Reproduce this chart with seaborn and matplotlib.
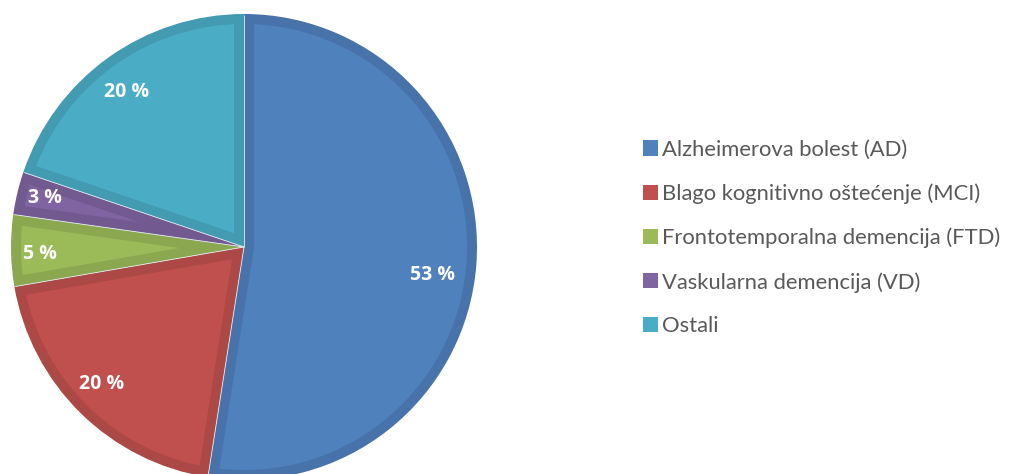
import numpy as np
import matplotlib
matplotlib.use("Agg")
import matplotlib.pyplot as plt
import seaborn as sns
from matplotlib.patches import Patch, Polygon

categories = ["Alzheimerova bolest (AD)", "Blago kognitivno oštećenje (MCI)",
              "Frontotemporalna demencija (FTD)", "Vaskularna demencija (VD)", "Ostali"]
values = [53, 20, 5, 3, 20]
labels = ["53 %", "20 %", "5 %", "3 %", "20 %"]

fill_colors = ["#4F81BD", "#C0504D", "#9BBB59", "#8064A2", "#4BACC6"]
edge_colors = ["#4773AA", "#AC4845", "#8BA850", "#725A91", "#439BB2"]
label_dist = [0.82, 0.85, 0.875, 0.88, 0.835]
label_angle_shift = [-4.0, -1.5, 1.0, -0.5, 1.5]

sns.set_theme(style="white")
plt.rcParams['font.family'] = ['Lato', 'DejaVu Sans']

W, H = 1014, 474
fig = plt.figure(figsize=(W / 100, H / 100), dpi=100)
cx, cy, r = 244, 247, 233
ax = fig.add_axes([(cx - r) / W, (H - cy - r) / H, 2 * r / W, 2 * r / H])

wedges, _ = ax.pie(values, colors=edge_colors, startangle=90, counterclock=False,
                   radius=1, wedgeprops=dict(linewidth=0))
ax.set_xlim(-1, 1)
ax.set_ylim(-1, 1)
ax.axis("off")

# inner lighter area inset from the wedge outline
d = 10 / r
for w, fc in zip(wedges, fill_colors):
    t1, t2 = np.deg2rad(w.theta1), np.deg2rad(w.theta2)
    h = (t2 - t1) / 2
    mid = (t1 + t2) / 2
    apex = d / np.sin(h)
    dl = np.arcsin(d / (1 - d))
    arc = np.linspace(t1 + dl, t2 - dl, 200)
    pts = [(apex * np.cos(mid), apex * np.sin(mid))]
    pts += [((1 - d) * np.cos(a), (1 - d) * np.sin(a)) for a in arc]
    ax.add_patch(Polygon(pts, closed=True, facecolor=fc, edgecolor="none"))

# thin light separators
for w in wedges:
    th = np.deg2rad(w.theta1)
    ax.plot([0, 0.995 * np.cos(th)], [0, 0.995 * np.sin(th)], color="#e4ebf2",
            lw=0.6, solid_capstyle="butt")

for w, lab, dd, sh in zip(wedges, labels, label_dist, label_angle_shift):
    mid = np.deg2rad((w.theta1 + w.theta2) / 2 + sh)
    ax.text(dd * np.cos(mid), dd * np.sin(mid), lab, ha="center", va="center",
            color="white", fontsize=14, fontweight="bold",
            family=["Open Sans", "DejaVu Sans"])

handles = [Patch(facecolor=c, edgecolor="none") for c in fill_colors]
fs = 15.8
leg = fig.legend(handles, categories, loc="center left",
                 bbox_to_anchor=(623 / W, 1 - 238 / H), frameon=False,
                 handlelength=0.68, handleheight=0.68, handletextpad=0.18,
                 labelspacing=1.08, fontsize=fs, labelcolor="#595959")

fig.savefig("out.png", dpi=100)
